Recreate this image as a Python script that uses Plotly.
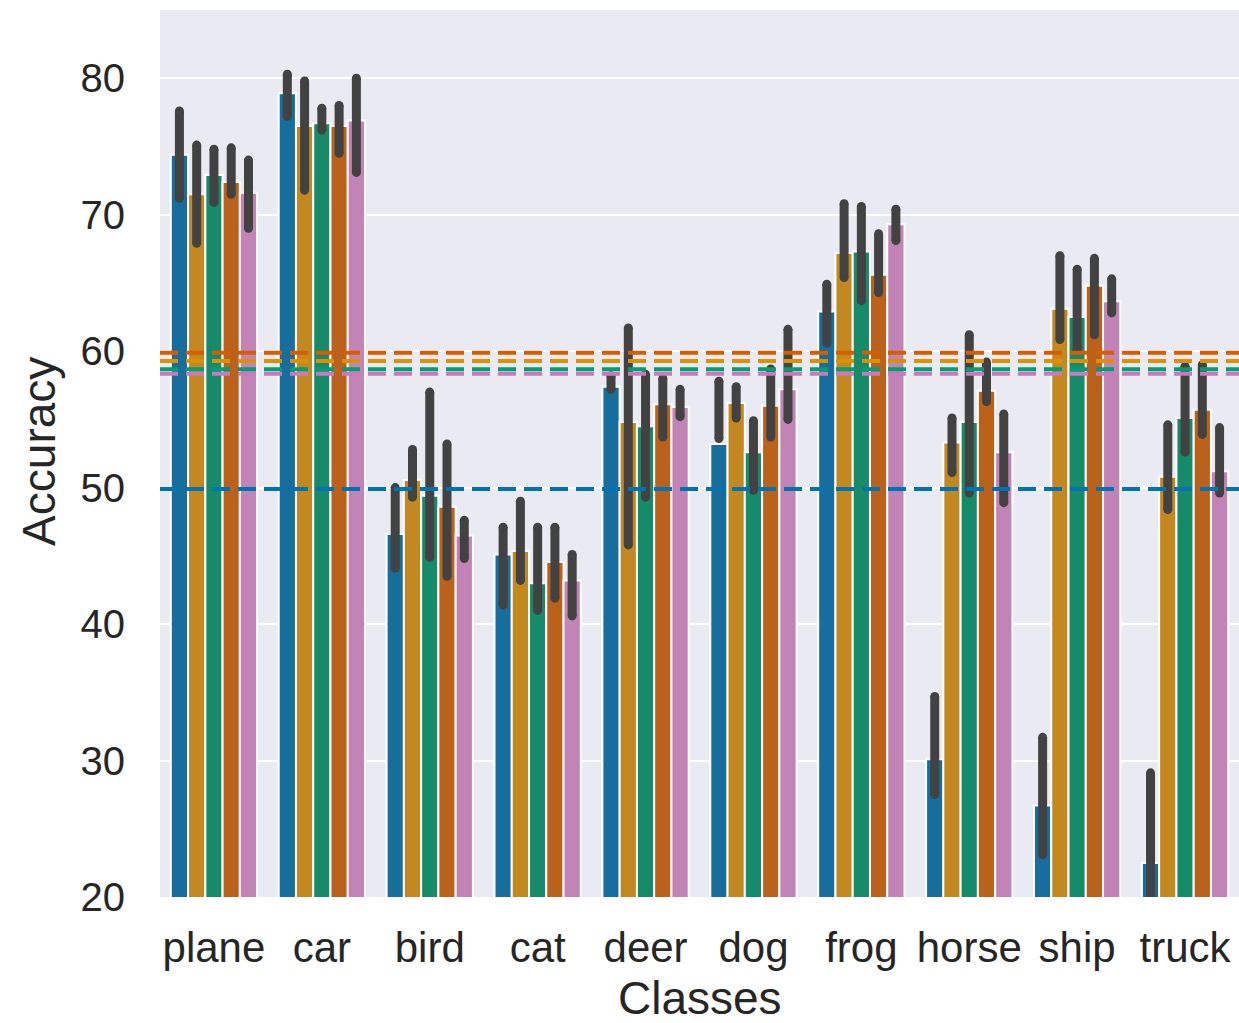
import plotly.graph_objects as go

classes = ['plane', 'car', 'bird', 'cat', 'deer', 'dog', 'frog', 'horse', 'ship', 'truck']
series_names = ['Model 1', 'Model 2', 'Model 3', 'Model 4', 'Model 5']

mean_1 = [74.4, 78.9, 46.6, 45.1, 57.4, 53.2, 62.9, 30.1, 26.7, 22.5]
mean_2 = [71.5, 76.5, 50.55, 45.35, 54.8, 56.2, 67.2, 53.3, 63.1, 50.8]
mean_3 = [72.9, 76.7, 49.4, 43.0, 54.5, 52.6, 67.3, 54.8, 62.5, 55.1]
mean_4 = [72.4, 76.5, 48.6, 44.55, 56.1, 56.0, 65.6, 57.1, 64.8, 55.7]
mean_5 = [71.6, 76.9, 46.5, 43.2, 55.9, 57.2, 69.3, 52.6, 63.65, 51.2]

lo_1 = [71.2, 77.2, 44.1, 41.4, 57.2, 53.6, 60.6, 27.5, 23.1, 16.0]
hi_1 = [77.6, 80.3, 50.0, 47.1, 58.2, 57.8, 64.9, 34.7, 31.7, 29.1]
lo_2 = [67.9, 71.8, 49.3, 43.2, 45.8, 55.1, 65.4, 51.1, 60.85, 48.4]
hi_2 = [75.1, 79.8, 52.8, 49.0, 61.7, 57.4, 70.8, 55.1, 67.0, 54.6]
lo_3 = [70.9, 76.2, 44.9, 41.0, 49.3, 49.8, 63.7, 49.6, 60.1, 52.6]
hi_3 = [74.8, 77.8, 57.0, 47.1, 58.3, 54.9, 70.6, 61.2, 66.0, 58.9]
lo_4 = [71.5, 74.5, 43.5, 41.9, 53.7, 53.7, 64.3, 56.3, 61.2, 53.9]
hi_4 = [74.9, 78.0, 53.2, 47.1, 58.0, 58.7, 68.6, 59.2, 66.8, 59.0]
lo_5 = [69.0, 73.1, 44.8, 40.6, 55.2, 55.0, 68.1, 48.9, 62.8, 49.6]
hi_5 = [74.0, 80.0, 47.6, 45.1, 57.2, 61.6, 70.4, 55.4, 65.3, 54.4]

overall_means = [49.9, 59.27, 58.68, 59.88, 58.34]

bar_colors = ['#176d9c', '#c38820', '#168b6a', '#ba611b', '#c283b6']
line_colors = ['#0173b2', '#de8f05', '#029e73', '#d55e00', '#cc78bc']

means = [mean_1, mean_2, mean_3, mean_4, mean_5]
los = [lo_1, lo_2, lo_3, lo_4, lo_5]
his = [hi_1, hi_2, hi_3, hi_4, hi_5]

ERR = '#424242'
FONT = 'Liberation Sans, Arial, sans-serif'

fig = go.Figure()
for name, col, m, lo, hi in zip(series_names, bar_colors, means, los, his):
    fig.add_trace(go.Bar(
        x=classes, y=m, name=name, offsetgroup=name,
        marker=dict(color=col, line=dict(color='white', width=2)),
        error_y=dict(type='data', symmetric=False,
                     array=[h - v for h, v in zip(hi, m)],
                     arrayminus=[v - l for v, l in zip(m, lo)],
                     color=ERR, thickness=9, width=0),
        showlegend=False,
    ))

for name, lo, hi in zip(series_names, los, his):
    fig.add_trace(go.Scatter(
        x=classes + classes, y=lo + hi, mode='markers', offsetgroup=name,
        marker=dict(color=ERR, size=9, line=dict(width=0)),
        showlegend=False, hoverinfo='skip',
    ))

for val, col in zip(overall_means, line_colors):
    fig.add_shape(type='line', xref='paper', x0=0, x1=1, yref='y', y0=val, y1=val,
                  line=dict(color=col, width=4, dash='18px,8px'), layer='above')

fig.add_annotation(text='Accuracy', xref='paper', yref='paper', x=-0.112, y=0.502,
                   textangle=-90, showarrow=False, xanchor='center', yanchor='middle',
                   font=dict(family=FONT, size=46, color='#262626'))
fig.add_annotation(text='Classes', xref='paper', yref='paper', x=0.5, y=-0.114,
                   showarrow=False, xanchor='center', yanchor='middle',
                   font=dict(family=FONT, size=46, color='#262626'))

fig.update_layout(
    width=1239, height=1023,
    margin=dict(l=160, r=0, t=10, b=126),
    paper_bgcolor='white', plot_bgcolor='#eaeaf2',
    barmode='group', bargap=0.2, bargroupgap=0,
    scattermode='group', scattergap=0.2,
    font=dict(family=FONT, color='#262626'),
)
fig.update_yaxes(range=[20, 85], tickvals=[20, 30, 40, 50, 60, 70, 80],
                 gridcolor='white', gridwidth=2, zeroline=False, showline=False,
                 ticks='', ticklabelstandoff=34,
                 tickfont=dict(family=FONT, size=40, color='#262626'))
fig.update_xaxes(showgrid=False, zeroline=False, showline=False, ticks='',
                 ticklabelstandoff=22,
                 tickfont=dict(family=FONT, size=42, color='#262626'))

fig.write_html('out.html', config={'displayModeBar': False},
               post_script="document.body.style.margin='0';document.body.style.overflow='hidden';")
